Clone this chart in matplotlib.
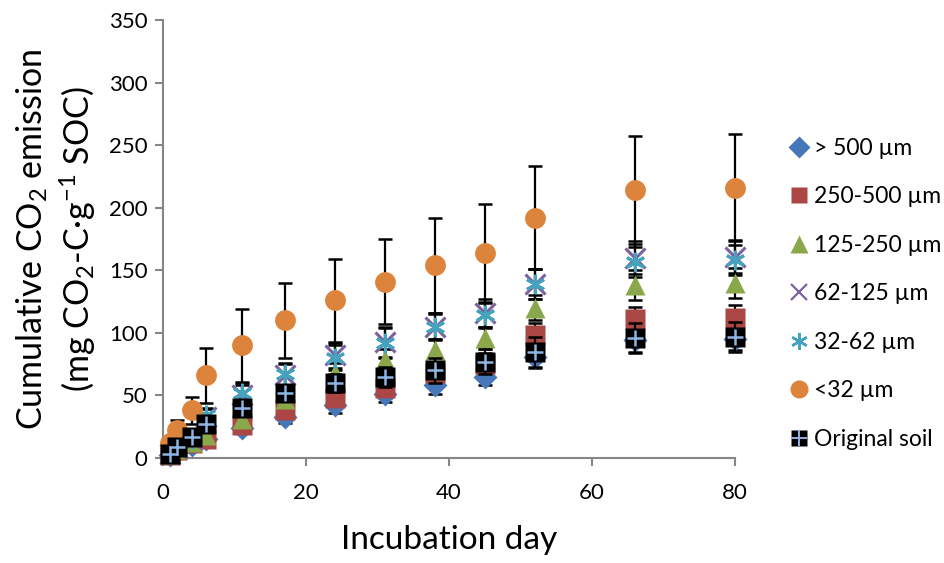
import matplotlib.pyplot as plt
from matplotlib.lines import Line2D

plt.rcParams['font.family'] = ['Lato', 'DejaVu Sans']
plt.rcParams['mathtext.default'] = 'regular'

# incubation days
days = [1, 2, 4, 6, 11, 17, 24, 31, 38, 45, 52, 66, 80]

# cumulative CO2 (mg CO2-C per g SOC) and standard errors for each size fraction
gt500 = [2, 5, 10, 15, 24, 33, 42, 51, 58, 65, 81, 94, 95]
gt500_err = [1, 2, 3, 3, 4, 5, 6, 6, 7, 7, 9, 9, 9]
f250_500 = [2, 6, 12, 15, 26, 38, 48, 56, 68, 75, 98, 111, 112]
f250_500_err = [2, 3, 3, 4, 5, 6, 7, 8, 9, 9, 10, 10, 10]
f125_250 = [3, 7, 13, 18, 31, 47, 68, 78, 86, 96, 120, 138, 140]
f125_250_err = [2, 3, 4, 5, 6, 7, 8, 9, 9, 9, 10, 12, 12]
f62_125 = [3, 8, 15, 33, 50, 66, 82, 93, 105, 116, 139, 160, 161]
f62_125_err = [3, 4, 5, 6, 8, 9, 10, 12, 11, 11, 12, 13, 13]
f32_62 = [3, 8, 15, 34, 52, 67, 80, 92, 105, 114, 139, 157, 158]
f32_62_err = [3, 4, 5, 6, 8, 9, 10, 12, 10, 10, 12, 12, 12]
lt32 = [12, 22, 38, 66, 90, 110, 126, 141, 154, 164, 192, 214, 216]
lt32_err = [5, 8, 11, 22, 29, 30, 33, 34, 38, 39, 41, 43, 43]
orig = [3, 9, 17, 27, 40, 52, 60, 65, 70, 77, 85, 96, 97]
orig_err = [2, 3, 4, 4, 5, 6, 7, 8, 10, 10, 12, 12, 12]

labels = ['> 500 \u00b5m', '250-500 \u00b5m', '125-250 \u00b5m', '62-125 \u00b5m',
          '32-62 \u00b5m', '<32 \u00b5m', 'Original soil']

fig = plt.figure(figsize=(9.45, 5.63), dpi=100)
ax = fig.add_axes([0.1725, 0.1865, 0.6053, 0.778])

ekw = dict(fmt='none', ecolor='black', elinewidth=1.6, capsize=5, capthick=1.8,
           clip_on=False)
mkw = dict(ls='none', clip_on=False)

ax.errorbar(days, gt500, yerr=gt500_err, zorder=2, **ekw)
ax.plot(days, gt500, marker='D', color='#4677B8', ms=12, mec='none', zorder=3, **mkw)

ax.errorbar(days, f250_500, yerr=f250_500_err, zorder=2, **ekw)
ax.plot(days, f250_500, marker='s', color='#AA4644', ms=14, mec='none', zorder=3, **mkw)

ax.errorbar(days, f125_250, yerr=f125_250_err, zorder=2, **ekw)
ax.plot(days, f125_250, marker='^', color='#8AA84B', ms=15, mec='none', zorder=3, **mkw)

ax.errorbar(days, f62_125, yerr=f62_125_err, zorder=2, **ekw)
ax.plot(days, f62_125, marker='x', color='#7D60A0', ms=14, mew=2.2, zorder=3, **mkw)

ax.errorbar(days, f32_62, yerr=f32_62_err, zorder=2, **ekw)
ax.plot(days, f32_62, marker=(6, 2, 0), color='#45A3BE', ms=14, mew=2.2, zorder=3, **mkw)

ax.errorbar(days, lt32, yerr=lt32_err, zorder=2, **ekw)
ax.plot(days, lt32, marker='o', color='#DD843C', ms=15, mec='none', zorder=3, **mkw)

ax.errorbar(days, orig, yerr=orig_err, zorder=4, **ekw)
ax.plot(days, orig, marker='s', color='black', ms=14, mec='none', zorder=5, **mkw)
ax.plot(days, orig, marker='+', color='#8EB4E3', ms=12, mew=1.8, zorder=6, **mkw)

ax.set_xlim(0, 80)
ax.set_ylim(0, 350)
ax.set_xticks([0, 20, 40, 60, 80])
ax.set_yticks(range(0, 351, 50))
for s in ['top', 'right']:
    ax.spines[s].set_visible(False)
for s in ['left', 'bottom']:
    ax.spines[s].set_color('#868686')
    ax.spines[s].set_linewidth(1.5)
ax.tick_params(axis='both', direction='out', length=6, width=1.5, color='#868686',
               labelsize=16, pad=5)
ax.tick_params(axis='x', pad=12)

ax.set_xlabel('Incubation day', fontsize=24, labelpad=16)
ax.set_ylabel('Cumulative CO$_2$ emission\n(mg CO$_2$-C\u00b7g$^{-1}$ SOC)', fontsize=24.5,
              labelpad=8, linespacing=1.25)

# legend entries, composite symbols for the asterisk and the original soil
handles = [
    Line2D([], [], marker='D', ls='none', color='#4677B8', mec='none', ms=11),
    Line2D([], [], marker='s', ls='none', color='#AA4644', mec='none', ms=12),
    Line2D([], [], marker='^', ls='none', color='#8AA84B', mec='none', ms=13),
    Line2D([], [], marker='x', ls='none', color='#7D60A0', ms=12, mew=1.6),
    Line2D([], [], marker=(6, 2, 0), ls='none', color='#45A3BE', ms=12, mew=1.8),
    Line2D([], [], marker='o', ls='none', color='#DD843C', mec='none', ms=13),
    (Line2D([], [], marker='s', ls='none', color='black', mec='none', ms=12),
     Line2D([], [], marker='+', ls='none', color='#8EB4E3', ms=11, mew=1.4)),
]
fig.legend(handles, labels, loc='upper left', bbox_to_anchor=(0.826, 0.772),
           frameon=False, fontsize=16.5, handlelength=0.8, handletextpad=0.25,
           labelspacing=1.2, borderaxespad=0)

fig.savefig('out.png', dpi=100)
